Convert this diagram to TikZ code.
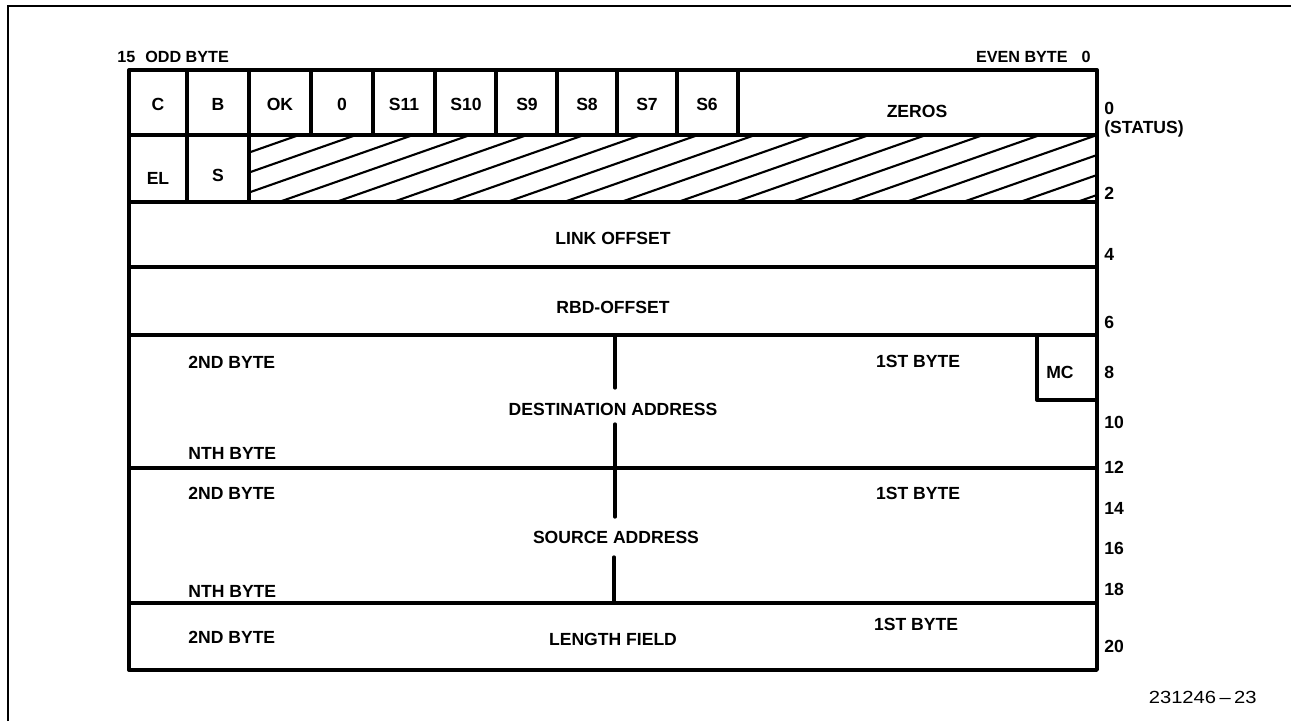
\documentclass[tikz,border=0pt]{standalone}
\usepackage{fontspec}
\setmainfont{Liberation Sans}
\begin{document}
\begin{tikzpicture}[x=0.02cm,y=-0.02cm,
  lbl/.style={font=\fontsize{10}{11}\selectfont\bfseries, inner sep=0pt},
  hdr/.style={font=\fontsize{9.2}{11}\selectfont\bfseries, inner sep=0pt},
  plain/.style={font=\fontsize{10}{12}\selectfont, inner sep=0pt},
  box/.style={line width=1.9pt, line cap=round, line join=round},
  hatch/.style={line width=1.2pt},
  frameline/.style={line width=1.1pt}]
\useasboundingbox (0,0) rectangle (1291,721);
% outer frame (partly visible)
\draw[frameline] (8,721) -- (8,6) -- (1291,6);
% hatched area
\begin{scope}
  \clip (249,135) rectangle (1097,202);
  \foreach \k in {-4,...,18}
    \draw[hatch] ({1097-57*\k+40},{135-14}) -- ({1097-57*\k-191-40},{202+14});
\end{scope}
% main box and rows
\draw[box] (129,70) rectangle (1097,670);
\foreach \yy in {135,202,267,335,468,603}
  \draw[box] (129,\yy) -- (1097,\yy);
% status bit dividers
\foreach \xx in {187,249,311,373,435,496,557,617,677,738}
  \draw[box] (\xx,70) -- (\xx,135);
\draw[box] (187,135) -- (187,202);
\draw[box] (249,135) -- (249,202);
% MC box
\draw[box] (1037,335) -- (1037,400) -- (1097,400);
% byte dividers
\draw[box] (615,335) -- (615,388);
\draw[box] (615,424) -- (615,517);
\draw[box] (614,557) -- (614,603);
% header
\node[hdr, anchor=west] (h15) at (117,57) {15};
\node[hdr, anchor=west] (hodd) at (145,57) {ODD BYTE};
\node[hdr, anchor=east] (heven) at (1068,57) {EVEN BYTE};
\node[hdr] (h0) at (1086,57) {0};
% row 1
\node[lbl] (bC) at (158,104) {C};
\node[lbl] (bB) at (218,104) {B};
\node[lbl] (bOK) at (280,104) {OK};
\node[lbl] (b0) at (342,104) {0};
\node[lbl] (bS11) at (404,104) {S11};
\node[lbl] (bS10) at (466,104) {S10};
\node[lbl] (bS9) at (527,104) {S9};
\node[lbl] (bS8) at (587,104) {S8};
\node[lbl] (bS7) at (647,104) {S7};
\node[lbl] (bS6) at (707,104) {S6};
\node[lbl] (zeros) at (917,111) {ZEROS};
% row 2
\node[lbl] (bEL) at (158,178) {EL};
\node[lbl] (bS) at (218,175) {S};
% offsets
\node[lbl] (link) at (613,238) {LINK OFFSET};
\node[lbl] (rbd) at (613,307) {RBD-OFFSET};
% destination
\node[lbl, anchor=west] (d2nd) at (188,362) {2ND BYTE};
\node[lbl] (d1st) at (918,361) {1ST BYTE};
\node[lbl] (mc) at (1060,372) {MC};
\node[lbl] (dest) at (613,409) {DESTINATION ADDRESS};
\node[lbl, anchor=west] (dnth) at (188,453) {NTH BYTE};
% source
\node[lbl, anchor=west] (s2nd) at (188,493) {2ND BYTE};
\node[lbl] (s1st) at (918,493) {1ST BYTE};
\node[lbl] (src) at (616,537) {SOURCE ADDRESS};
\node[lbl, anchor=west] (snth) at (188,591) {NTH BYTE};
% length
\node[lbl, anchor=west] (l2nd) at (188,637) {2ND BYTE};
\node[lbl] (len) at (613,639) {LENGTH FIELD};
\node[lbl] (l1st) at (916,624) {1ST BYTE};
% right side offsets
\node[lbl, anchor=west] (o0) at (1104,108) {0};
\node[lbl, anchor=west] (ostat) at (1104,129) {(STATUS)};
\node[lbl, anchor=west] (o2) at (1104,193) {2};
\node[lbl, anchor=west] (o4) at (1104,254) {4};
\node[lbl, anchor=west] (o6) at (1104,322) {6};
\node[lbl, anchor=west] (o8) at (1104,372) {8};
\node[lbl, anchor=west] (o10) at (1104,422) {10};
\node[lbl, anchor=west] (o12) at (1104,467) {12};
\node[lbl, anchor=west] (o14) at (1104,508) {14};
\node[lbl, anchor=west] (o16) at (1104,548) {16};
\node[lbl, anchor=west] (o18) at (1104,589) {18};
\node[lbl, anchor=west] (o20) at (1104,646) {20};
% figure number
\node[plain, anchor=east] (fig) at (1257,697) {\scalebox{1.15}[1]{231246\,--\,23}};
\end{tikzpicture}
\end{document}
